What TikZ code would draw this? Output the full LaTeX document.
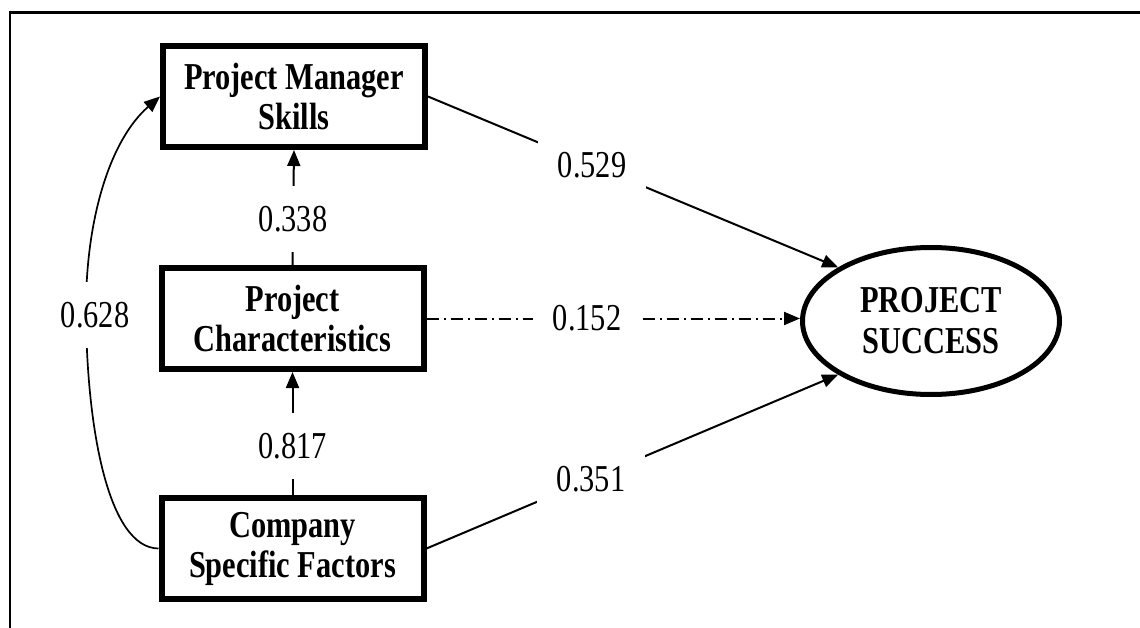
\documentclass[tikz,border=0pt]{standalone}
\usepackage{fontspec}
\setmainfont{Liberation Serif}[FakeStretch=0.8]
\usetikzlibrary{arrows.meta,shapes.geometric}
\tikzset{
  box/.style={draw, line width=6pt, minimum width=262pt, minimum height=101pt,
    inner sep=0pt, align=center, font=\bfseries\fontsize{38}{40}\selectfont},
  goal/.style={draw, ellipse, line width=5pt, minimum width=257pt, minimum height=147pt,
    inner sep=0pt, align=center, font=\bfseries\fontsize{38}{41}\selectfont},
  tip/.style={-{Triangle[length=16pt,width=13pt]}},
  conn/.style={line width=2pt, tip},
  lbl/.style={fill=white, inner sep=20pt, font=\fontsize{38}{40}\selectfont},
}
\begin{document}
\begin{tikzpicture}[x=1pt,y=-1pt]
\useasboundingbox (0,0) rectangle (1140,628);
% frame
\draw[line width=3pt] (9,13) -- (1140,13);
\draw[line width=2pt] (10,13) -- (10,628);

% constructs
\node[box] (pms) at (294,96.5) {Project Manager\\Skills};
\node[box] (pc)  at (292.5,318.5) {Project\\Characteristics};
\node[box] (csf) at (292.5,548.5) {Company\\Specific Factors};
\node[goal] (ps) at (931,321) {PROJECT\\SUCCESS};

% paths
\draw[conn] (pc.north) -- node[lbl, pos=0.4] {0.338} (pms.south);
\draw[conn] (csf.north) -- node[lbl, pos=0.4] {0.817} (pc.south);
\draw[conn] (pms.east) -- node[lbl, pos=0.4] {0.529} (ps.150);
\draw[conn] (csf.east) -- node[lbl, pos=0.4] {0.351} (ps.210);
\draw[conn, dash pattern=on 12pt off 5pt on 2pt off 5pt]
  (pc.east) -- node[lbl, pos=0.43] {0.152} (pc.east -| ps.west);

% correlation
\draw[line width=1.7pt, tip]
  (csf.west) .. controls (108,548) and (87,428) .. (86,315)
  node[lbl, xshift=9pt] {0.628}
  .. controls (85,220) and (110,140) .. (pms.west);
\end{tikzpicture}
\end{document}
